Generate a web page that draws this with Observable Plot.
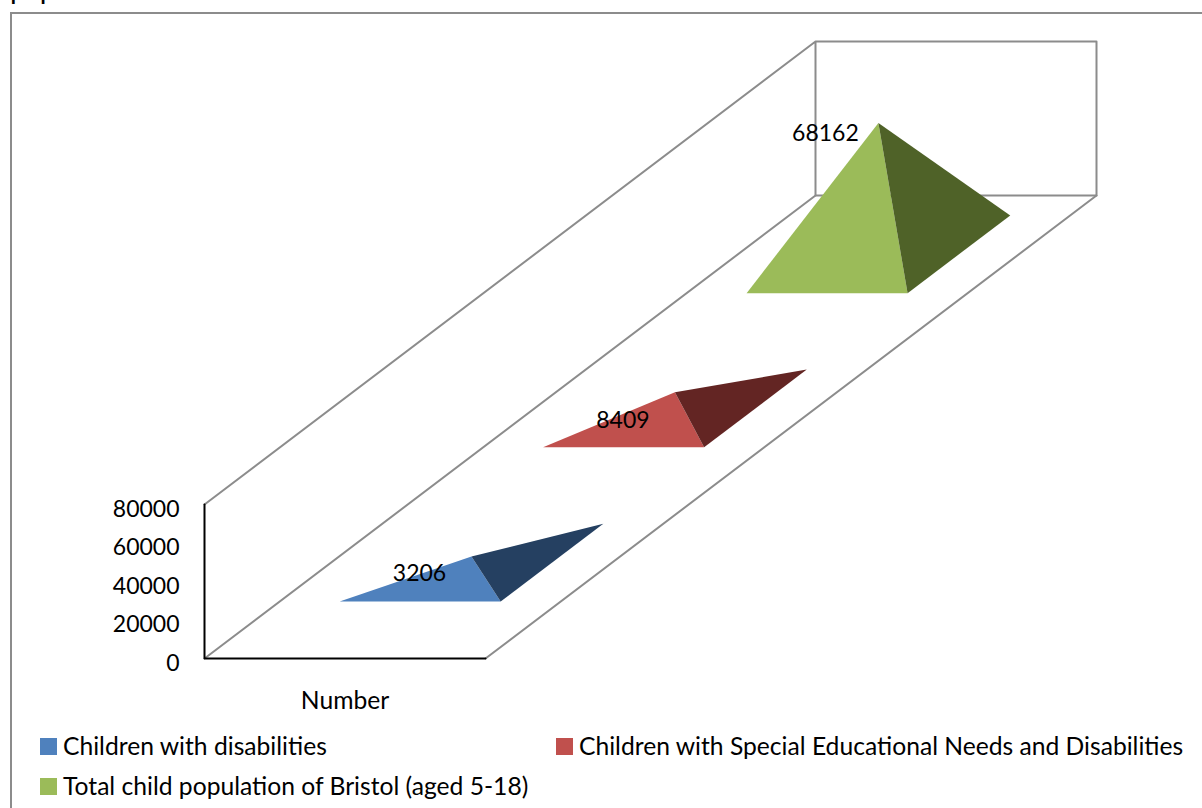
<!DOCTYPE html>
<html>
<head>
<meta charset="utf-8">
<script src="https://cdn.jsdelivr.net/npm/d3@7"></script>
<script src="https://cdn.jsdelivr.net/npm/@observablehq/plot@0.6"></script>
<style>
  html, body { margin: 0; padding: 0; background: #fff; overflow: hidden; }
  body { width: 1202px; height: 808px; position: relative; font-family: Lato, sans-serif; color: #000; }
  #frame { position: absolute; left: 10px; top: 12px; right: -4px; bottom: -4px; border: 2px solid #8c8c8c; }
  #clipped { position: absolute; left: 10px; top: -30px; font-size: 29px; line-height: 36px; letter-spacing: -1.5px; }
  #chart { position: absolute; left: 0; top: 0; }
  #legend { position: absolute; left: 0; top: 722px; width: 1202px; height: 86px; font-size: 24.65px; }
  .swatch { position: absolute; width: 17px; height: 17px; }
  .name { position: absolute; line-height: 30px; }
</style>
</head>
<body>
<div id="clipped">pop</div>
<div id="frame"></div>
<div id="chart"></div>
<div id="legend"></div>
<script>
// Values of the three pyramids
const seriesNames = [
  "Children with disabilities",
  "Children with Special Educational Needs and Disabilities",
  "Total child population of Bristol (aged 5-18)"
];
const seriesValues = [3206, 8409, 68162];
const frontColors = ["#4F81BD", "#C0504D", "#9BBB59"];
const sideColors = ["#254061", "#632523", "#4F6228"];
const yTicks = [0, 20000, 40000, 60000, 80000];
const categoryLabels = ["Number"];

// Where each series sits along the depth axis of the floor (0 front, 1 back)
const seriesDepths = [0.207, 0.54, 0.873];
const baseHalfWidth = 0.2865;
const baseHalfDepth = 0.084;
const labelOffsets = [[-52, 17], [-52, 28], [-53, 11]];

// Oblique projection: depth is sheared onto the x and y scales
const maxValue = 80000;
const depthX = 611 / 281;
const depthY = (463 / 154) * maxValue;
const pt = (u, depth, z = 0) => ({x: u + depth * depthX, y: z + depth * depthY});

const wallColor = "#8c8c8c";
const wallLines = [
  [pt(0, 0, maxValue), pt(0, 1, maxValue), pt(1, 1, maxValue), pt(1, 1), pt(0, 1), pt(0, 1, maxValue)],
  [pt(0, 0), pt(0, 1)],
  [pt(1, 0), pt(1, 1)]
];
const axisLines = [
  [pt(0, 0, maxValue), pt(0, 0), pt(1, 0)]
];

const pyramidMarks = seriesValues.flatMap((value, i) => {
  const d = seriesDepths[i];
  const frontLeft = pt(0.5 - baseHalfWidth, d - baseHalfDepth);
  const frontRight = pt(0.5 + baseHalfWidth, d - baseHalfDepth);
  const backRight = pt(0.5 + baseHalfWidth, d + baseHalfDepth);
  const apex = pt(0.5, d, value);
  return [
    Plot.line([frontLeft, frontRight, apex], {x: "x", y: "y", fill: frontColors[i], stroke: "none"}),
    Plot.line([frontRight, backRight, apex], {x: "x", y: "y", fill: sideColors[i], stroke: "none"})
  ];
});

const labelMarks = seriesValues.map((value, i) =>
  Plot.text([{...pt(0.5, seriesDepths[i], value), value}], {
    x: "x", y: "y", text: (r) => String(r.value),
    dx: labelOffsets[i][0], dy: labelOffsets[i][1],
    fontSize: 23, fill: "#000"
  })
);

const chart = Plot.plot({
  width: 1202,
  height: 722,
  marginLeft: 204,
  marginRight: 717,
  marginTop: 504,
  marginBottom: 64,
  style: {fontFamily: "Lato, sans-serif", background: "transparent", overflow: "visible"},
  x: {domain: [0, 1], range: [204, 485]},
  y: {domain: [0, maxValue], range: [658, 504]},
  marks: [
    ...wallLines.map((line) => Plot.line(line, {x: "x", y: "y", stroke: wallColor, strokeWidth: 2})),
    ...axisLines.map((line) => Plot.line(line, {x: "x", y: "y", stroke: "#000", strokeWidth: 2})),
    ...pyramidMarks,
    ...labelMarks,
    Plot.axisY({
      ticks: yTicks, tickFormat: (d) => String(d), tickSize: 0, tickPadding: 25,
      dy: 5, fontSize: 23, label: null, fill: "#000"
    }),
    Plot.axisX({
      ticks: [0.5], tickFormat: () => categoryLabels[0], tickSize: 0, tickPadding: 33,
      fontSize: 24.65, label: null, fill: "#000"
    })
  ]
});
document.getElementById("chart").append(chart);

// Legend rows sit under the plot
const entrySpots = [[40, 16], [556, 16], [40, 56]];
const legend = document.getElementById("legend");
seriesNames.forEach((name, i) => {
  const [left, top] = entrySpots[i];
  const swatch = document.createElement("div");
  swatch.className = "swatch";
  swatch.style.cssText = `left:${left}px;top:${top}px;background:${frontColors[i]}`;
  const label = document.createElement("div");
  label.className = "name";
  label.style.cssText = `left:${left + 23}px;top:${top - 7}px;white-space:nowrap`;
  label.textContent = name;
  legend.append(swatch, label);
});
</script>
</body>
</html>
